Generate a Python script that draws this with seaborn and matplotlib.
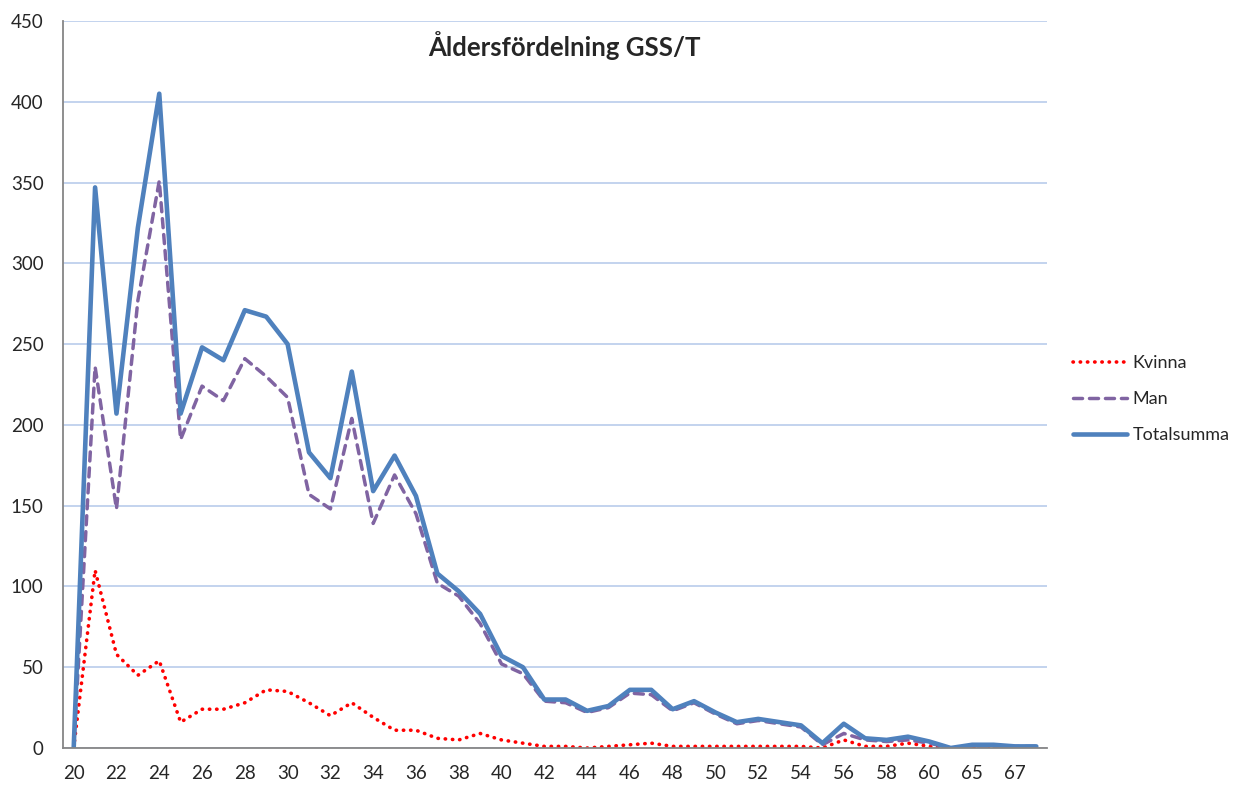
import pandas as pd
import matplotlib.pyplot as plt
import seaborn as sns

# data
ages = [str(a) for a in range(20, 61)] + ["61", "65", "66", "67", "68"]
kvinna = [0, 110, 58, 45, 54, 16, 24, 24, 28, 36, 35, 28, 20, 28, 19, 11, 11, 6, 5, 9,
          5, 3, 1, 1, 0, 1, 2, 3, 1, 1, 1, 1, 1, 1, 1, 0, 5, 1, 1, 3, 1, 0, 0, 1, 0, 0]
man = [0, 236, 148, 277, 351, 191, 224, 215, 241, 230, 217, 157, 148, 204, 139, 169, 145, 102, 94, 77,
       52, 46, 29, 28, 22, 25, 34, 33, 23, 28, 21, 15, 17, 15, 13, 2, 9, 5, 4, 5, 3, 0, 1, 1, 1, 1]
totalsumma = [0, 347, 207, 322, 405, 207, 248, 240, 271, 267, 250, 183, 167, 233, 159, 181, 156, 108, 97, 83,
              57, 50, 30, 30, 23, 26, 36, 36, 24, 29, 22, 16, 18, 16, 14, 3, 15, 6, 5, 7, 4, 0, 2, 2, 1, 1]

df = pd.DataFrame({"Ålder": ages, "Kvinna": kvinna, "Man": man, "Totalsumma": totalsumma})

sns.set_style("white")
plt.rcParams['font.family'] = ['Lato', 'DejaVu Sans']

fig = plt.figure(figsize=(12.42, 7.87), dpi=100)
ax = fig.add_axes([63 / 1242, 1 - 748 / 787, (1047 - 63) / 1242, (748 - 21) / 787])

sns.lineplot(data=df, x="Ålder", y="Kvinna", ax=ax, sort=False, color="#FF0000", lw=2.6,
             linestyle=(0, (0.1, 1.9)), dash_capstyle="round", label="Kvinna")
sns.lineplot(data=df, x="Ålder", y="Man", ax=ax, sort=False, color="#8064A2", lw=2.5,
             linestyle=(0, (2.6, 2.0)), dash_capstyle="round", label="Man")
sns.lineplot(data=df, x="Ålder", y="Totalsumma", ax=ax, sort=False, color="#4F81BD", lw=3.3,
             label="Totalsumma")

# axes in Excel style
ax.set_xlim(-0.5, len(ages) - 0.5)
ax.set_ylim(0, 450)
ax.set_yticks(range(0, 451, 50))
ax.set_xticks(range(0, len(ages), 2))
ax.set_xticklabels(ages[::2])
ax.set_xticks([i + 0.5 for i in range(-1, len(ages))], minor=True)
ax.tick_params(axis="x", which="major", length=0, pad=12, labelsize=13.5)
ax.tick_params(axis="x", which="minor", length=5, width=1.2, color="#868686", direction="out")
ax.tick_params(axis="y", length=6, width=1.2, color="#868686", direction="out", pad=8, labelsize=13.5)
ax.yaxis.grid(True, color="#C3D3EE", lw=1.4)
ax.xaxis.grid(False)
ax.set_axisbelow(True)
for s in ["top", "right"]:
    ax.spines[s].set_visible(False)
for s in ["left", "bottom"]:
    ax.spines[s].set_color("#868686")
    ax.spines[s].set_linewidth(1.3)
ax.set_xlabel("")
ax.set_ylabel("")

ax.text(0.51, 0.966, "Åldersfördelning GSS/T", transform=ax.transAxes, ha="center", va="center",
        fontsize=18.5, fontweight="bold")

ax.legend(loc="center left", bbox_to_anchor=(1.01, 0.48), frameon=False, fontsize=13,
          handlelength=3.0, handletextpad=0.3, labelspacing=1.1)

fig.savefig("out.png", dpi=100)
